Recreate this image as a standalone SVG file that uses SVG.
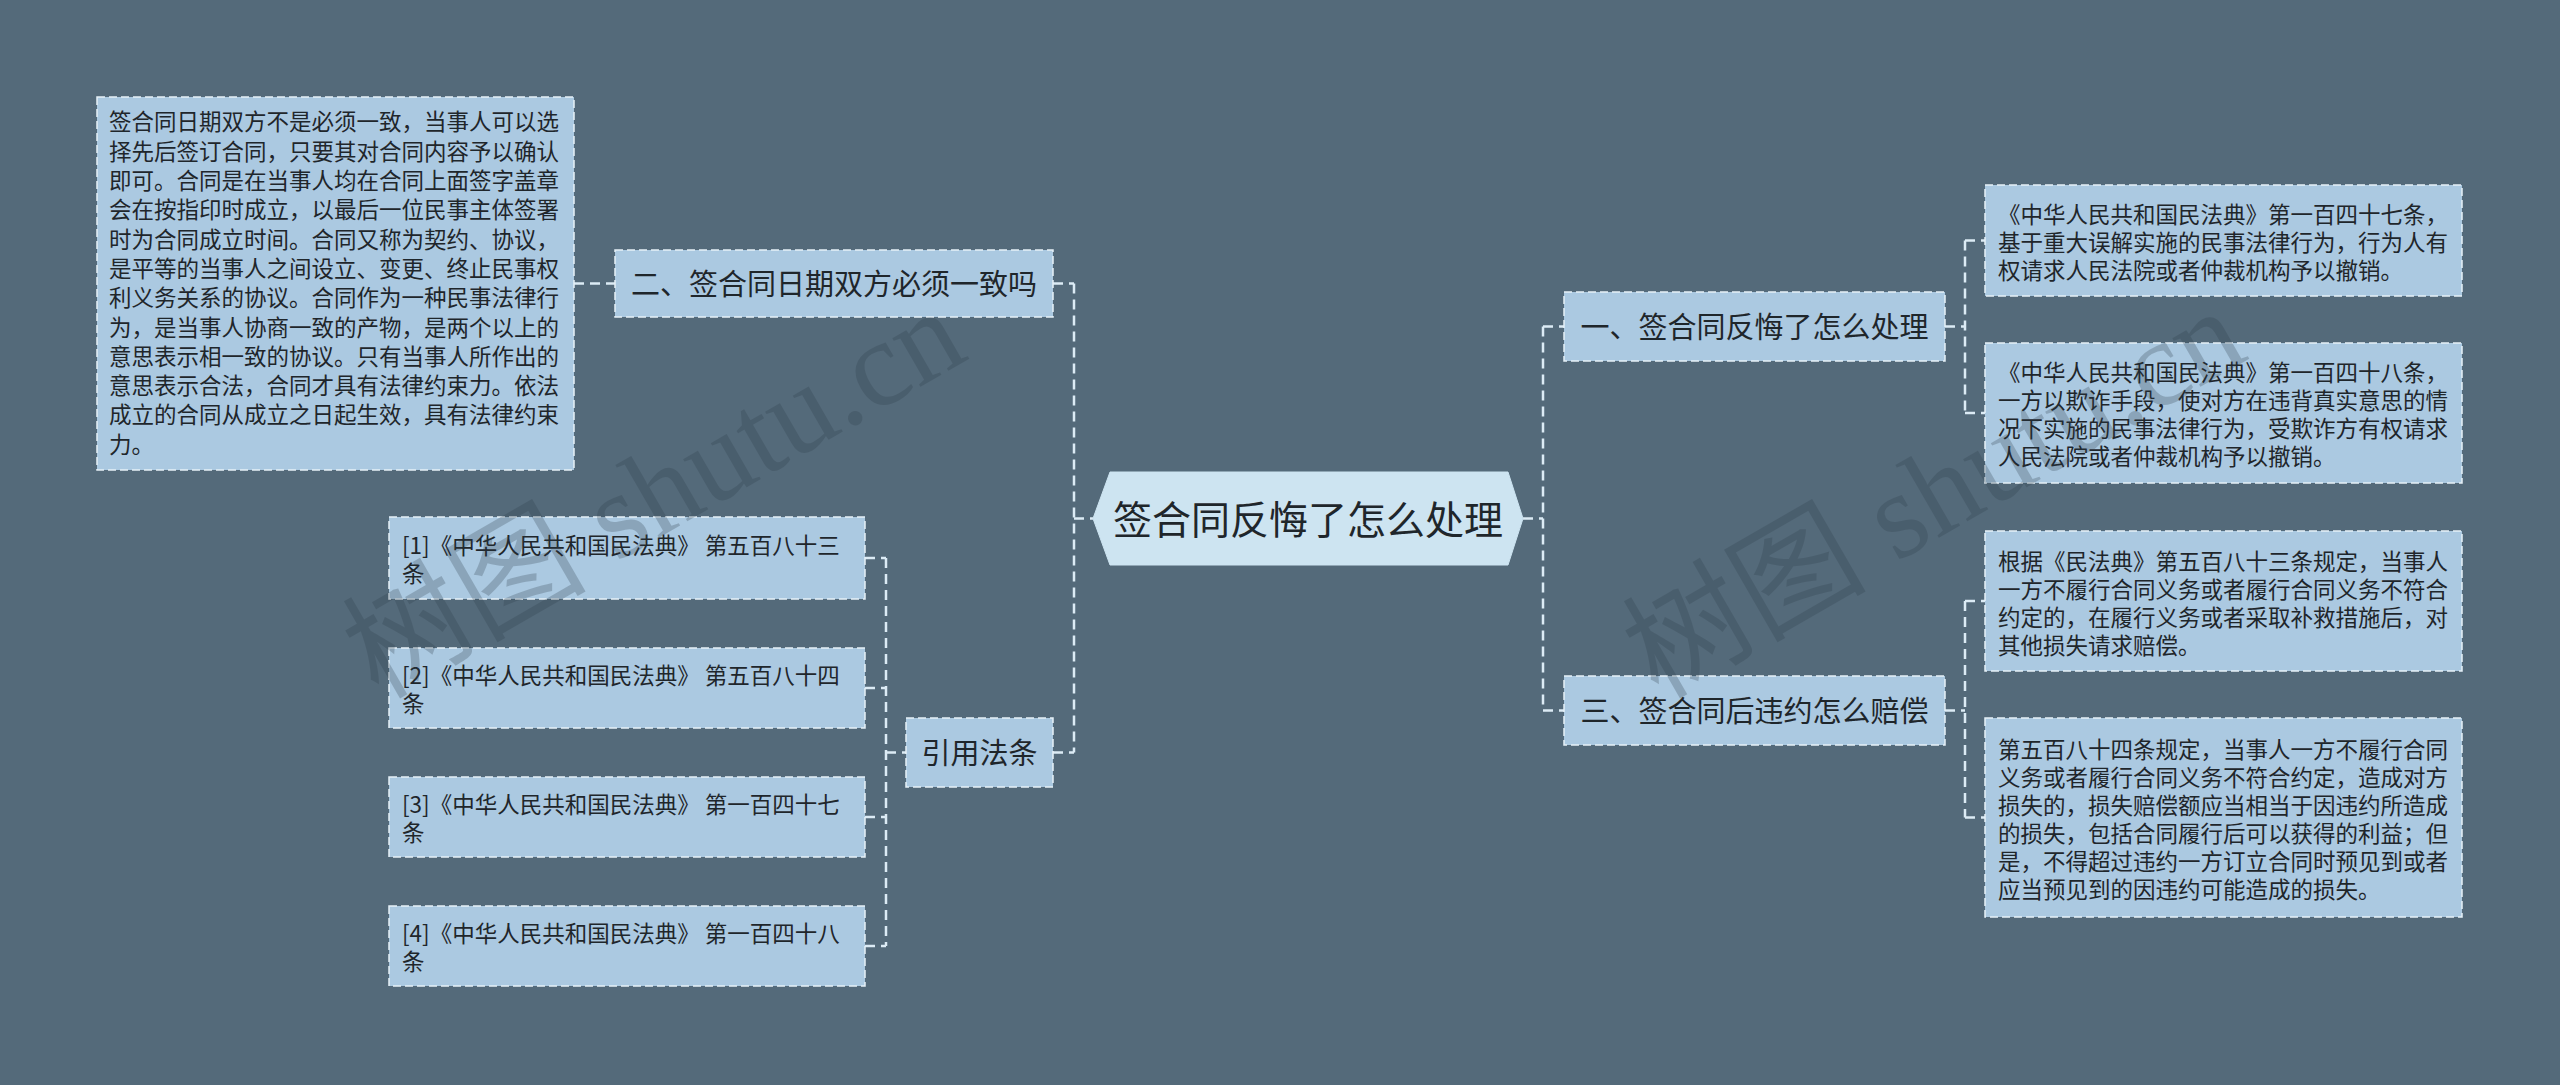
<svg xmlns="http://www.w3.org/2000/svg" width="2560" height="1085" viewBox="0 0 2560 1085">
<style>
.bg{fill:#546a7a}
.box{fill:#abc9e1;stroke:#e6f1f8;stroke-width:1.5;stroke-dasharray:8 4}
.hex{fill:#cde4f1;stroke:#cde4f1;stroke-width:1}
.t{font-family:"Noto Sans CJK SC","Noto Sans",sans-serif;fill:#1f262b}
.s{font-size:22.5px}
.m{font-size:29px;text-anchor:middle}
.c{font-size:39px;text-anchor:middle}
.con{stroke:#dcebf5;stroke-width:2.5;stroke-dasharray:10 6;fill:none}
.wm{font-family:"Liberation Serif","Noto Sans CJK SC",serif;font-size:122px;fill:#2c3b47;opacity:0.25}
</style>
<rect class="bg" x="0" y="0" width="2560" height="1085"/>

<g id="connectors">
<line class="con" x1="574" y1="283.5" x2="615" y2="283.5"/>
<line class="con" x1="1074" y1="283.5" x2="1074" y2="752.5"/>
<line class="con" x1="1053" y1="283.5" x2="1074" y2="283.5"/>
<line class="con" x1="1053" y1="752.5" x2="1074" y2="752.5"/>
<line class="con" x1="1074" y1="518.5" x2="1093" y2="518.5"/>
<line class="con" x1="886" y1="558" x2="886" y2="946"/>
<line class="con" x1="865" y1="558" x2="886" y2="558"/>
<line class="con" x1="865" y1="688" x2="886" y2="688"/>
<line class="con" x1="865" y1="817" x2="886" y2="817"/>
<line class="con" x1="865" y1="946" x2="886" y2="946"/>
<line class="con" x1="886" y1="752.5" x2="906" y2="752.5"/>
<line class="con" x1="1543" y1="326.5" x2="1543" y2="710.5"/>
<line class="con" x1="1523" y1="518.5" x2="1543" y2="518.5"/>
<line class="con" x1="1543" y1="326.5" x2="1564" y2="326.5"/>
<line class="con" x1="1543" y1="710.5" x2="1564" y2="710.5"/>
<line class="con" x1="1965" y1="240.5" x2="1965" y2="413"/>
<line class="con" x1="1945" y1="326.5" x2="1965" y2="326.5"/>
<line class="con" x1="1965" y1="240.5" x2="1985" y2="240.5"/>
<line class="con" x1="1965" y1="413" x2="1985" y2="413"/>
<line class="con" x1="1965" y1="601" x2="1965" y2="817.5"/>
<line class="con" x1="1945" y1="710.5" x2="1965" y2="710.5"/>
<line class="con" x1="1965" y1="601" x2="1985" y2="601"/>
<line class="con" x1="1965" y1="817.5" x2="1985" y2="817.5"/>
</g>

<g id="root">
<polygon class="hex" points="1093,518.5 1110,472 1508,472 1523,518.5 1508,565 1110,565"/>
<text class="t c" x="1308" y="534">签合同反悔了怎么处理</text>
</g>

<g id="n-er">
<rect class="box" x="615" y="250" width="438" height="67"/>
<text class="t m" x="834" y="294.5">二、签合同日期双方必须一致吗</text>
</g>

<g id="n-er-detail">
<rect class="box" x="97" y="97" width="477" height="373"/>
<text class="t s">
<tspan x="109" y="130.4">签合同日期双方不是必须一致，当事人可以选</tspan>
<tspan x="109" y="159.7">择先后签订合同，只要其对合同内容予以确认</tspan>
<tspan x="109" y="189">即可。合同是在当事人均在合同上面签字盖章</tspan>
<tspan x="109" y="218.3">会在按指印时成立，以最后一位民事主体签署</tspan>
<tspan x="109" y="247.6">时为合同成立时间。合同又称为契约、协议，</tspan>
<tspan x="109" y="276.9">是平等的当事人之间设立、变更、终止民事权</tspan>
<tspan x="109" y="306.2">利义务关系的协议。合同作为一种民事法律行</tspan>
<tspan x="109" y="335.5">为，是当事人协商一致的产物，是两个以上的</tspan>
<tspan x="109" y="364.8">意思表示相一致的协议。只有当事人所作出的</tspan>
<tspan x="109" y="394.1">意思表示合法，合同才具有法律约束力。依法</tspan>
<tspan x="109" y="423.4">成立的合同从成立之日起生效，具有法律约束</tspan>
<tspan x="109" y="452.7">力。</tspan>
</text>
</g>

<g id="n-yinyong">
<rect class="box" x="906" y="718" width="147" height="69"/>
<text class="t m" x="979.5" y="763.5">引用法条</text>
</g>

<g id="n-ref1">
<rect class="box" x="389" y="517" width="476" height="82"/>
<text class="t s"><tspan x="402" y="554">[1]《中华人民共和国民法典》 第五百八十三</tspan><tspan x="402" y="582">条</tspan></text>
</g>
<g id="n-ref2">
<rect class="box" x="389" y="648" width="476" height="80"/>
<text class="t s"><tspan x="402" y="684">[2]《中华人民共和国民法典》 第五百八十四</tspan><tspan x="402" y="712">条</tspan></text>
</g>
<g id="n-ref3">
<rect class="box" x="389" y="777" width="476" height="80"/>
<text class="t s"><tspan x="402" y="813">[3]《中华人民共和国民法典》 第一百四十七</tspan><tspan x="402" y="841">条</tspan></text>
</g>
<g id="n-ref4">
<rect class="box" x="389" y="906" width="476" height="80"/>
<text class="t s"><tspan x="402" y="942">[4]《中华人民共和国民法典》 第一百四十八</tspan><tspan x="402" y="970">条</tspan></text>
</g>

<g id="n-yi">
<rect class="box" x="1564" y="292" width="381" height="69"/>
<text class="t m" x="1754.5" y="337.5">一、签合同反悔了怎么处理</text>
</g>

<g id="n-san">
<rect class="box" x="1564" y="676" width="381" height="69"/>
<text class="t m" x="1754.5" y="721.5">三、签合同后违约怎么赔偿</text>
</g>

<g id="n-yi-a">
<rect class="box" x="1985" y="185" width="477" height="111"/>
<text class="t s">
<tspan x="1998" y="222.5">《中华人民共和国民法典》第一百四十七条，</tspan>
<tspan x="1998" y="250.5">基于重大误解实施的民事法律行为，行为人有</tspan>
<tspan x="1998" y="278.5">权请求人民法院或者仲裁机构予以撤销。</tspan>
</text>
</g>

<g id="n-yi-b">
<rect class="box" x="1985" y="343" width="477" height="140"/>
<text class="t s">
<tspan x="1998" y="381">《中华人民共和国民法典》第一百四十八条，</tspan>
<tspan x="1998" y="409">一方以欺诈手段，使对方在违背真实意思的情</tspan>
<tspan x="1998" y="437">况下实施的民事法律行为，受欺诈方有权请求</tspan>
<tspan x="1998" y="465">人民法院或者仲裁机构予以撤销。</tspan>
</text>
</g>

<g id="n-san-a">
<rect class="box" x="1985" y="531" width="477" height="140"/>
<text class="t s">
<tspan x="1998" y="570">根据《民法典》第五百八十三条规定，当事人</tspan>
<tspan x="1998" y="598">一方不履行合同义务或者履行合同义务不符合</tspan>
<tspan x="1998" y="626">约定的，在履行义务或者采取补救措施后，对</tspan>
<tspan x="1998" y="654">其他损失请求赔偿。</tspan>
</text>
</g>

<g id="n-san-b">
<rect class="box" x="1985" y="718" width="477" height="199"/>
<text class="t s">
<tspan x="1998" y="757.5">第五百八十四条规定，当事人一方不履行合同</tspan>
<tspan x="1998" y="785.5">义务或者履行合同义务不符合约定，造成对方</tspan>
<tspan x="1998" y="813.5">损失的，损失赔偿额应当相当于因违约所造成</tspan>
<tspan x="1998" y="841.5">的损失，包括合同履行后可以获得的利益；但</tspan>
<tspan x="1998" y="869.5">是，不得超过违约一方订立合同时预见到或者</tspan>
<tspan x="1998" y="897.5">应当预见到的因违约可能造成的损失。</tspan>
</text>
</g>

<g id="watermark">
<text class="wm" transform="translate(378,700) rotate(-30)">树图 shutu.cn</text>
<text class="wm" transform="translate(1658,700) rotate(-30)">树图 shutu.cn</text>
</g>
</svg>
